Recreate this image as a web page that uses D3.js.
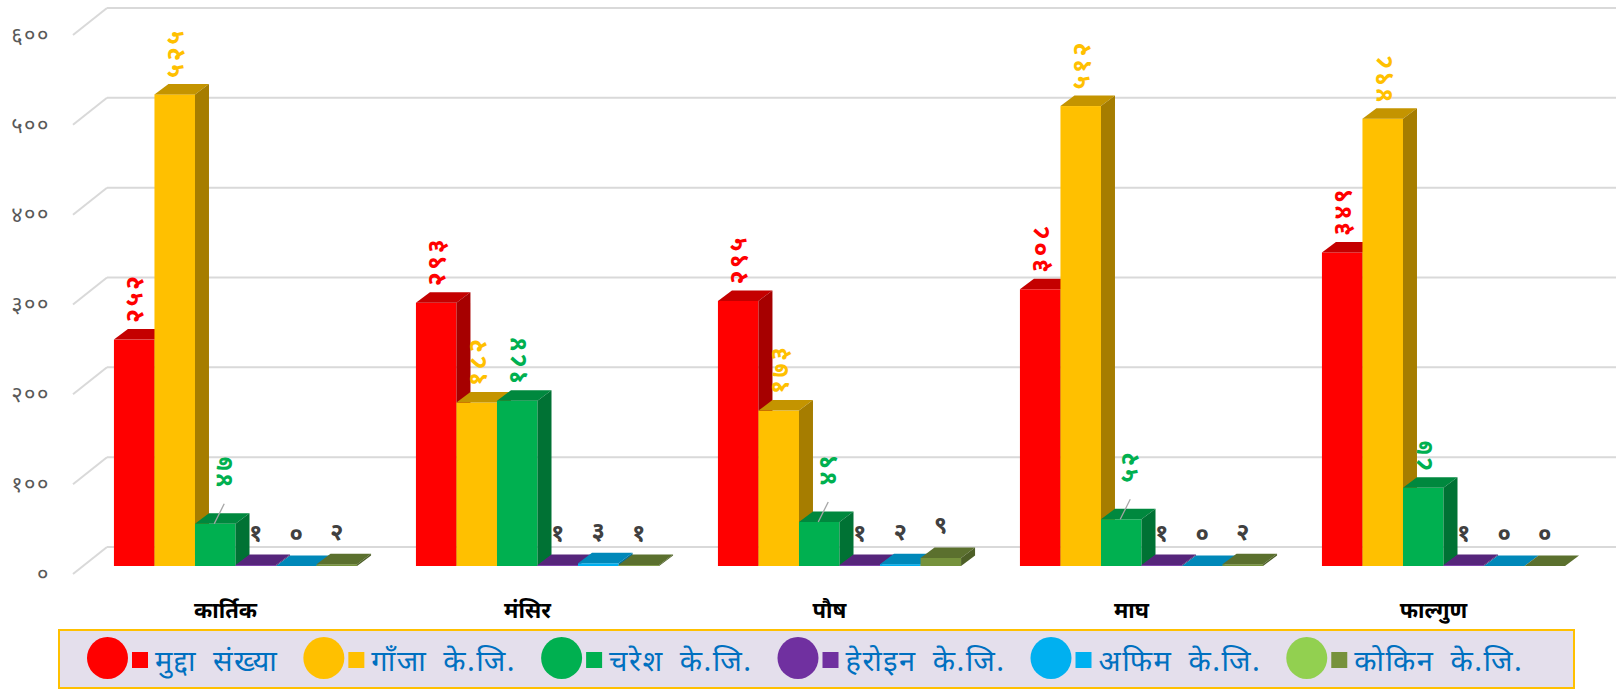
<!DOCTYPE html>
<html>
<head>
<meta charset="utf-8">
<script src="https://cdn.jsdelivr.net/npm/d3@7/dist/d3.min.js"></script>
<style>
  body { margin: 0; background: #fff; }
  svg { display: block; font-family: "Noto Sans Devanagari", "Lohit Devanagari", "Mangal", "Noto Sans", sans-serif; }
</style>
</head>
<body>
<svg id="chart" width="1616" height="690"></svg>
<script>
// data
var months = ['कार्तिक', 'मंसिर', 'पौष', 'माघ', 'फाल्गुण'];
var seriesNames = ['मुद्दा संख्या', 'गाँजा के.जि.', 'चरेश के.जि.', 'हेरोइन के.जि.', 'अफिम के.जि.', 'कोकिन के.जि.'];
var cases = [252, 293, 295, 308, 349];
var ganja = [525, 182, 173, 512, 498];
var charesh = [47, 184, 49, 52, 87];
var heroin = [1, 1, 1, 1, 1];
var opium = [0, 3, 2, 0, 0];
var cocaine = [2, 1, 9, 2, 0];
var yTicks = [0, 100, 200, 300, 400, 500, 600];

var barColors = ['#FF0000', '#FFC000', '#00B050', '#7030A0', '#00B0F0', '#76923C'];
var legendDots = ['#FF0000', '#FFC000', '#00B050', '#7030A0', '#00B0F0', '#92D050'];
var labelColors = ['#FF0000', '#FFC000', '#00B050', '#404040', '#404040', '#404040'];

(function () {
  'use strict';
  var values = [cases, ganja, charesh, heroin, opium, cocaine];
  var devDigits = '०१२३४५६७८९';
  function dev(n) { return String(n).replace(/[0-9]/g, function (d) { return devDigits[+d]; }); }
  function shade(c, k) {
    var r = d3.rgb(c);
    return d3.rgb(r.r * k, r.g * k, r.b * k).toString();
  }

  var svg = d3.select('#chart');
  var W = 1616;

  var y = d3.scaleLinear().domain([0, 600]).range([566, 27]);
  var x0 = d3.scaleBand().domain(months).range([84.5, 1594.5]).paddingInner(0.195).paddingOuter(0.0975);
  var x1 = d3.scaleBand().domain(d3.range(seriesNames.length)).range([0, x0.bandwidth()]);
  var dx = 14, dy = 10.5;           // bar depth
  var wallFront = 73, wallBack = 107;

  // gridlines on the back wall + side wall diagonals
  var grid = svg.append('g');
  yTicks.forEach(function (t) {
    var yb = y(t) - 19, yf = y(t) + 8;
    grid.append('line').attr('x1', wallBack).attr('x2', W).attr('y1', yb).attr('y2', yb)
      .attr('stroke', '#D9D9D9').attr('stroke-width', 2);
    grid.append('line').attr('x1', wallFront).attr('x2', wallBack).attr('y1', yf).attr('y2', yb)
      .attr('stroke', '#D9D9D9').attr('stroke-width', 2);
    grid.append('text').attr('x', 50).attr('y', yf).attr('dy', '0.35em')
      .attr('text-anchor', 'end').attr('fill', '#595959')
      .style('font-size', '22px').style('letter-spacing', '1.5px')
      .text(dev(t));
  });

  // 3d bars
  var bars = svg.append('g');
  months.forEach(function (m, i) {
    values.forEach(function (vals, j) {
      var v = vals[i];
      var bx = x0(m) + x1(j), w = x1.bandwidth();
      var top = y(v), base = y(0);
      var c = barColors[j];
      var g = bars.append('g');
      g.append('rect').attr('x', bx).attr('y', top).attr('width', w).attr('height', Math.max(0, base - top))
        .attr('fill', c);
      g.append('polygon')
        .attr('points', [[bx, top], [bx + dx, top - dy], [bx + w + dx, top - dy], [bx + w, top]].join(' '))
        .attr('fill', shade(c, 0.77));
      g.append('polygon')
        .attr('points', [[bx + w, top], [bx + w + dx, top - dy], [bx + w + dx, base - dy], [bx + w, base]].join(' '))
        .attr('fill', shade(c, 0.65));
    });
  });

  // data labels
  var labels = svg.append('g').style('font-weight', 'bold');
  months.forEach(function (m, i) {
    values.forEach(function (vals, j) {
      var v = vals[i];
      var cx = x0(m) + x1(j) + x1.bandwidth() / 2;
      var topBack = y(v) - dy;
      if (j >= 3) {
        labels.append('text').attr('x', cx).attr('y', topBack - 14)
          .attr('text-anchor', 'middle').attr('fill', labelColors[j])
          .style('font-size', '24px').text(dev(v));
        return;
      }
      var lx = cx + 3, ly = topBack - 6;
      if (j === 2 && v < 60) {
        // small green bars get a leader line
        lx = cx + 11; ly = topBack - 26;
        labels.append('line').attr('x1', cx - 1).attr('y1', y(v))
          .attr('x2', cx + 9).attr('y2', y(v) - 20)
          .attr('stroke', '#A6A6A6').attr('stroke-width', 1.3);
      }
      labels.append('text')
        .attr('transform', 'translate(' + lx + ',' + ly + ') rotate(-90)')
        .attr('dominant-baseline', 'central')
        .style('font-size', '25px').style('letter-spacing', '2.5px')
        .attr('fill', labelColors[j]).text(dev(v));
    });
  });

  // category labels
  svg.append('g').selectAll('text').data(months).enter().append('text')
    .attr('x', function (d) { return x0(d) + x0.bandwidth() / 2 - 10; })
    .attr('y', 610).attr('dy', '0.35em').attr('text-anchor', 'middle')
    .style('font-size', '22px').style('font-weight', 'bold').attr('fill', '#000')
    .text(function (d) { return d; });

  // legend
  var lg = svg.append('g');
  lg.append('rect').attr('x', 59).attr('y', 630).attr('width', 1515).attr('height', 58)
    .attr('fill', '#E4DFEC').attr('stroke', '#FFC000').attr('stroke-width', 2);
  var lx0 = 87;
  seriesNames.forEach(function (name, j) {
    lg.append('ellipse').attr('cx', lx0 + 20.5).attr('cy', 658).attr('rx', 20.5).attr('ry', 21)
      .attr('fill', legendDots[j]);
    lg.append('rect').attr('x', lx0 + 45).attr('y', 652).attr('width', 16).attr('height', 16)
      .attr('fill', barColors[j]);
    var t = lg.append('text').attr('x', lx0 + 68).attr('y', 671)
      .attr('fill', '#0070C0').style('font-size', '29px')
      .style('letter-spacing', '1.5px').style('word-spacing', '7px').text(name);
    lx0 = lx0 + 68 + t.node().getComputedTextLength() + 25;
  });
})();
</script>
</body>
</html>
